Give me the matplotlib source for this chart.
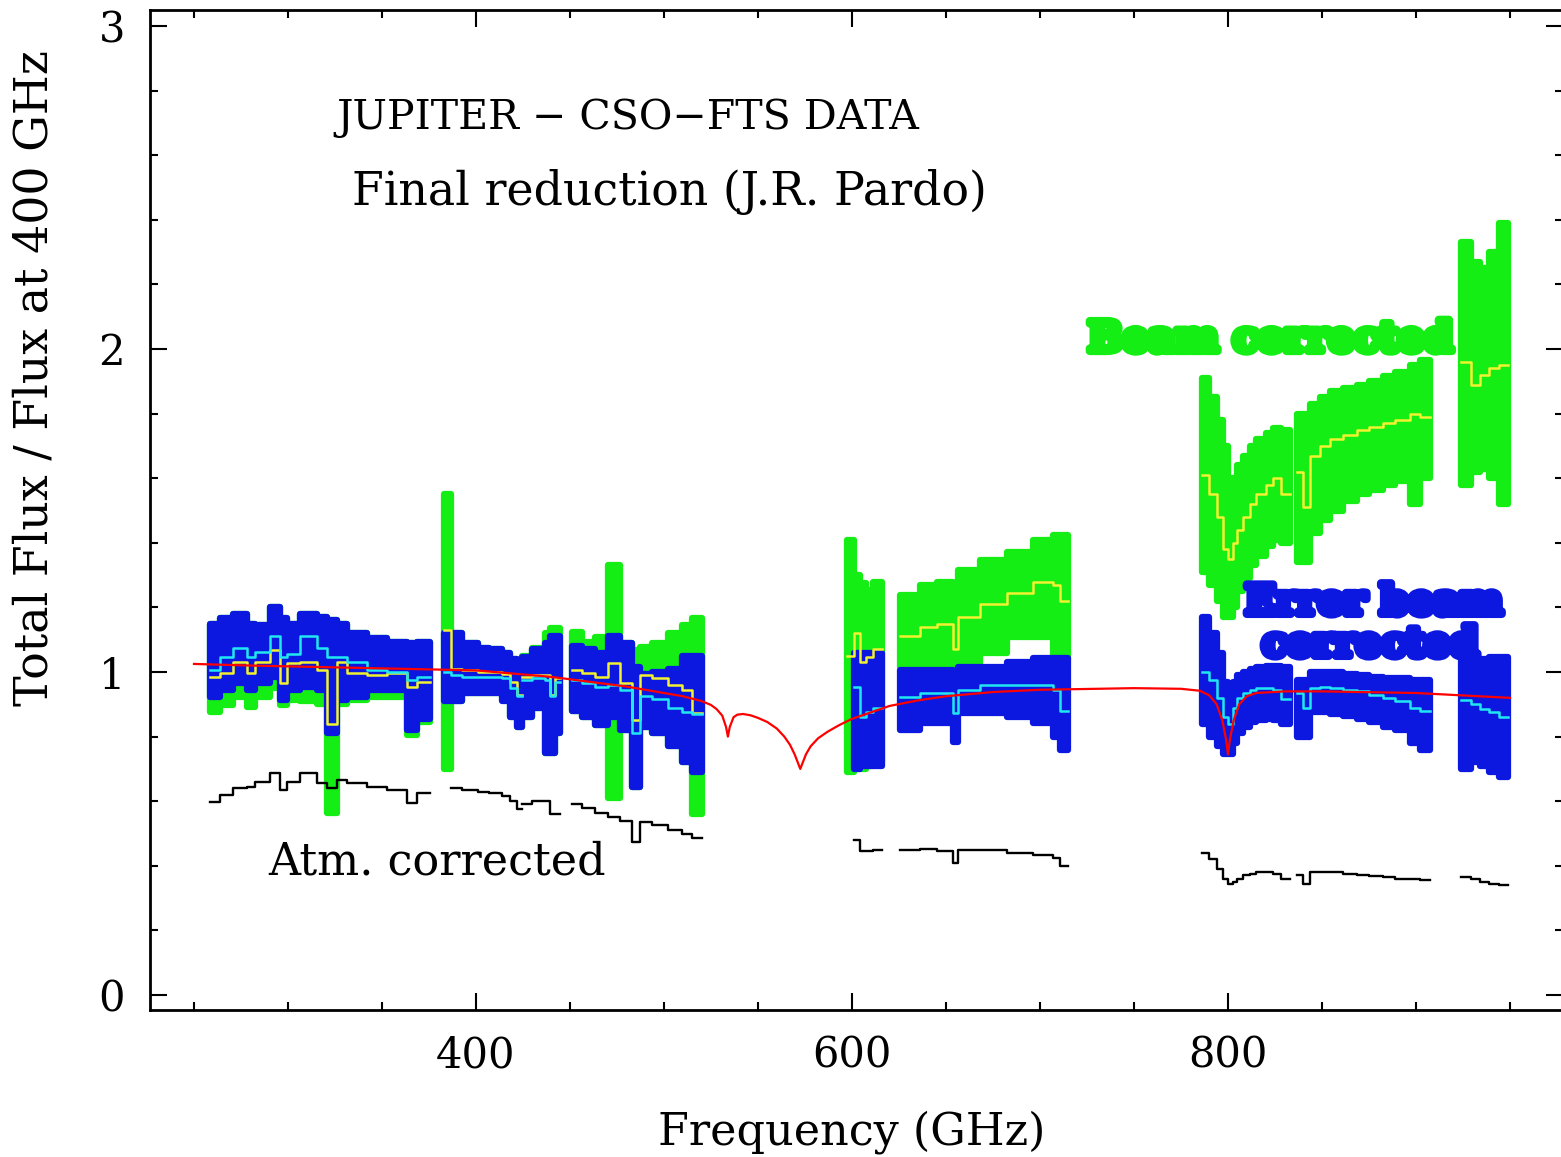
import numpy as np
import matplotlib.pyplot as plt
import matplotlib.patheffects as pe

nan = np.nan

# bin edges (GHz) of each FTS chunk
edges = [
    [258.5, 263.8, 270.9, 278.0, 282.4, 290.4, 295.7, 299.3, 306.4, 315.3, 320.6, 325.9, 331.2, 341.9, 352.5, 363.1, 368.5, 375.5],
    [383.2, 386.5, 392.4, 401.2, 407.0, 413.7, 418.0, 421.6, 424.6],
    [424.6, 429.6, 436.7, 439.5, 442.0, 444.7],
    [450.9, 456.2, 463.3, 470.4, 476.6, 482.8, 487.2, 493.4, 502.3, 509.4, 514.7, 520.1],
    [597.2, 601.0, 604.0, 607.5, 611.3, 616.0],
    [625.5, 636.2, 645.1, 653.9, 656.5, 668.1, 682.3, 696.4, 707.1, 710.6, 715.1],
    [786.0, 790.0, 794.0, 797.5, 800.0, 802.5, 805.0, 808.0, 811.5, 815.0, 820.0, 824.0, 828.0, 833.0],
    [836.5, 840.1, 843.6, 849.0, 854.3, 861.0, 868.5, 875.0, 882.6, 889.0, 896.8, 902.1, 907.4],
    [924.0, 929.0, 934.0, 939.0, 944.0, 949.0],
]

# beam corrected: central value and error band (green / yellow)
beam = [
    [0.986, 0.996, 1.032, 0.996, 1.032, 1.068, 0.965, 1.027, 1.03, 1.006, 0.84, 1.03, 0.996, 0.99, 0.996, 0.955, 0.97],
    [1.13, 1.01, 1.005, 1.0, 1.0, 0.995, 0.97, 0.93],
    [0.985, 0.99, 0.99, 0.93, 0.98],
    [1.006, 0.996, 0.985, 1.027, 0.965, 0.852, 0.99, 0.98, 0.96, 0.944, 0.872],
    [1.05, 1.12, 1.03, 1.045, 1.07],
    [1.11, 1.14, 1.15, 1.07, 1.17, 1.21, 1.245, 1.28, 1.27, 1.22],
    [1.61, 1.55, 1.48, 1.38, 1.35, 1.40, 1.44, 1.48, 1.52, 1.55, 1.58, 1.60, 1.55],
    [1.62, 1.51, 1.67, 1.70, 1.72, 1.735, 1.75, 1.76, 1.77, 1.78, 1.80, 1.79],
    [1.96, 1.89, 1.92, 1.94, 1.95],
]
beam_hi = [
    [1.15, 1.166, 1.18, 1.15, 1.146, 1.20, 1.166, 1.15, 1.18, 1.17, 1.16, 1.15, 1.12, 1.104, 1.094, 1.089, 1.094],
    [1.55, 1.12, 1.09, 1.075, 1.07, 1.06, 1.04, 1.015],
    [1.05, 1.075, 1.12, 1.135, 1.135],
    [1.125, 1.094, 1.109, 1.331, 1.089, 1.068, 1.078, 1.089, 1.12, 1.145, 1.166],
    [1.41, 1.30, 1.275, 1.255, 1.28],
    [1.238, 1.27, 1.28, 1.25, 1.316, 1.347, 1.372, 1.409, 1.424, 1.424],
    [1.91, 1.85, 1.78, 1.70, 1.60, 1.60, 1.64, 1.67, 1.70, 1.72, 1.74, 1.755, 1.75],
    [1.80, 1.80, 1.83, 1.85, 1.87, 1.88, 1.89, 1.90, 1.915, 1.93, 1.95, 1.965],
    [2.33, 2.27, 2.25, 2.30, 2.39],
]
beam_lo = [
    [0.877, 0.898, 0.924, 0.893, 0.924, 0.95, 0.898, 0.913, 0.91, 0.90, 0.562, 0.90, 0.913, 0.924, 0.924, 0.805, 0.846],
    [0.70, 0.91, 0.935, 0.935, 0.935, 0.92, 0.86, 0.83],
    [0.86, 0.89, 0.75, 0.75, 0.81],
    [0.88, 0.86, 0.835, 0.61, 0.82, 0.645, 0.83, 0.81, 0.77, 0.72, 0.56],
    [0.69, 0.70, 0.70, 0.71, 0.72],
    [1.016, 1.016, 1.016, 0.985, 1.016, 1.058, 1.109, 1.109, 1.04, 1.04],
    [1.31, 1.27, 1.22, 1.17, 1.17, 1.20, 1.25, 1.29, 1.33, 1.36, 1.39, 1.41, 1.40],
    [1.34, 1.34, 1.43, 1.47, 1.50, 1.53, 1.55, 1.565, 1.58, 1.59, 1.52, 1.60],
    [1.58, 1.62, 1.63, 1.60, 1.52],
]

# error beam corrected (blue / cyan)
errbeam = [
    [1.006, 1.047, 1.073, 1.047, 1.063, 1.11, 1.047, 1.057, 1.11, 1.073, 1.047, 1.047, 1.032, 1.006, 1.0, 0.975, 0.985],
    [1.0, 0.99, 0.985, 0.985, 0.985, 0.98, 0.95, 0.925],
    [0.975, 0.98, 0.975, 0.925, 0.97],
    [0.975, 0.965, 0.955, 0.96, 0.945, 0.81, 0.925, 0.915, 0.89, 0.875, 0.87],
    [nan, 0.955, 0.86, 0.875, 0.89],
    [0.923, 0.934, 0.934, 0.872, 0.944, 0.96, 0.96, 0.96, 0.944, 0.88],
    [1.0, 0.975, 0.92, 0.86, 0.84, 0.89, 0.92, 0.935, 0.945, 0.95, 0.95, 0.945, 0.915],
    [0.935, 0.89, 0.95, 0.955, 0.95, 0.945, 0.94, 0.93, 0.92, 0.91, 0.89, 0.88],
    [0.913, 0.90, 0.885, 0.875, 0.86],
]
errbeam_hi = [
    [1.15, 1.166, 1.18, 1.15, 1.146, 1.20, 1.166, 1.15, 1.18, 1.17, 1.16, 1.15, 1.12, 1.104, 1.094, 1.089, 1.094],
    [1.12, 1.12, 1.09, 1.075, 1.07, 1.06, 1.04, 1.015],
    [1.047, 1.07, 1.09, 1.11, 1.11],
    [1.08, 1.07, 1.06, 1.11, 1.09, 1.015, 0.995, 1.0, 1.01, 1.05, 1.05],
    [nan, 1.06, 1.06, 1.06, 1.06],
    [1.006, 1.006, 1.006, 0.985, 1.016, 1.016, 1.03, 1.043, 1.043, 1.043],
    [1.17, 1.12, 1.06, 0.97, 0.95, 0.97, 0.99, 1.0, 1.01, 1.015, 1.02, 1.02, 1.015],
    [0.975, 0.975, 1.0, 1.0, 1.0, 0.995, 0.99, 0.985, 0.98, 0.98, 0.975, 0.975],
    [1.035, 1.035, 1.04, 1.047, 1.047],
]
errbeam_lo = [
    [0.924, 0.944, 0.965, 0.944, 0.965, 0.986, 0.913, 0.944, 0.955, 0.944, 0.81, 0.913, 0.924, 0.944, 0.944, 0.82, 0.856],
    [0.91, 0.91, 0.935, 0.935, 0.935, 0.91, 0.86, 0.83],
    [0.86, 0.89, 0.75, 0.75, 0.81],
    [0.88, 0.86, 0.835, 0.86, 0.82, 0.645, 0.83, 0.81, 0.77, 0.72, 0.69],
    [nan, 0.70, 0.71, 0.71, 0.71],
    [0.82, 0.841, 0.841, 0.784, 0.872, 0.872, 0.862, 0.841, 0.80, 0.758],
    [0.84, 0.80, 0.77, 0.745, 0.745, 0.78, 0.81, 0.83, 0.845, 0.85, 0.855, 0.85, 0.84],
    [0.80, 0.80, 0.875, 0.875, 0.87, 0.865, 0.855, 0.845, 0.83, 0.82, 0.78, 0.76],
    [0.70, 0.72, 0.71, 0.69, 0.675],
]

# atmosphere corrected only (black)
atm = [
    [0.599, 0.619, 0.64, 0.645, 0.66, 0.686, 0.634, 0.66, 0.686, 0.655, 0.64, 0.665, 0.655, 0.645, 0.634, 0.593, 0.624],
    [nan, 0.64, 0.635, 0.63, 0.625, 0.615, 0.60, 0.575],
    [0.59, 0.60, 0.60, 0.56, 0.56],
    [0.59, 0.58, 0.565, 0.55, 0.54, 0.475, 0.535, 0.525, 0.51, 0.50, 0.485],
    [nan, 0.48, 0.445, 0.445, 0.45],
    [0.449, 0.452, 0.445, 0.41, 0.449, 0.449, 0.44, 0.433, 0.425, 0.40],
    [0.44, 0.42, 0.39, 0.36, 0.345, 0.35, 0.36, 0.37, 0.375, 0.38, 0.38, 0.375, 0.36],
    [0.37, 0.345, 0.38, 0.382, 0.38, 0.375, 0.372, 0.368, 0.365, 0.36, 0.358, 0.355],
    [0.365, 0.36, 0.35, 0.345, 0.34],
]

# model (red)
model_freq = [250, 280, 320, 360, 400, 440, 480, 510, 520, 525, 528, 531, 533, 534, 535, 537,
              539, 542, 546, 550, 555, 560, 564, 567, 569.5, 571.5, 572.5, 573.5, 575.5, 578,
              582, 587, 593, 600, 610, 620, 635, 650, 675, 700, 750, 775, 785, 790, 794, 797,
              799, 800, 801, 803, 806, 810, 815, 830, 850, 900, 950]
model_flux = [1.025, 1.02, 1.015, 1.01, 1.005, 0.985, 0.955, 0.925, 0.91, 0.898, 0.885, 0.865,
              0.83, 0.80, 0.83, 0.86, 0.868, 0.87, 0.866, 0.858, 0.845, 0.825, 0.80, 0.775,
              0.745, 0.715, 0.70, 0.715, 0.745, 0.77, 0.795, 0.815, 0.835, 0.855, 0.875, 0.895,
              0.912, 0.925, 0.938, 0.945, 0.95, 0.948, 0.942, 0.928, 0.9, 0.85, 0.79, 0.745,
              0.79, 0.85, 0.9, 0.925, 0.935, 0.94, 0.94, 0.935, 0.92]

GREEN = '#14ee14'
BLUE = '#0c18e0'
YELLOW = '#f2f230'
CYAN = '#20e8f0'
SERIF = 'DejaVu Serif'


def ext(a):
    a = np.asarray(a, dtype=float)
    return np.append(a, a[-1])


fig = plt.figure(figsize=(15.61, 11.57), dpi=100)
ax = fig.add_axes([150 / 1561, 1 - 1010 / 1157, (1563 - 150) / 1561, 1000 / 1157])

for i in range(len(edges)):
    e = np.array(edges[i])
    ax.fill_between(e, ext(beam_lo[i]), ext(beam_hi[i]), step='post', facecolor=GREEN,
                    edgecolor=GREEN, linewidth=4.5, joinstyle='round', zorder=1)
for i in range(len(edges)):
    e = np.array(edges[i])
    ax.fill_between(e, ext(errbeam_lo[i]), ext(errbeam_hi[i]), step='post', facecolor=BLUE,
                    edgecolor=BLUE, linewidth=4.5, joinstyle='round', zorder=2)
for i in range(len(edges)):
    e = np.array(edges[i])
    ax.plot(e, ext(beam[i]), drawstyle='steps-post', color=YELLOW, lw=1.8, zorder=3)
    ax.plot(e, ext(errbeam[i]), drawstyle='steps-post', color=CYAN, lw=1.8, zorder=3)
    ax.plot(e, ext(atm[i]), drawstyle='steps-post', color='black', lw=1.7, zorder=3)

ax.plot(model_freq, model_flux, color='red', lw=1.6, zorder=4)

ax.set_xlim(226.6, 978.2)
ax.set_ylim(-0.0464, 3.0495)
ax.set_xticks([400, 600, 800])
ax.set_xticks(np.arange(250, 976, 50), minor=True)
ax.set_yticks([0, 1, 2, 3])
ax.set_yticks(np.arange(0, 3.05, 0.2), minor=True)
ax.tick_params(which='both', direction='in', top=True, right=True, width=1.5)
ax.tick_params(which='major', length=12)
ax.tick_params(which='minor', length=6)
ax.tick_params(axis='x', which='major', pad=18, labelsize=30)
ax.tick_params(axis='y', which='major', pad=18, labelsize=30)
for lab in ax.get_xticklabels() + ax.get_yticklabels():
    lab.set_family(SERIF)
for sp in ax.spines.values():
    sp.set_linewidth(2)

fig.text(852 / 1561, 1 - 1132 / 1157, 'Frequency (GHz)', family=SERIF, fontsize=32,
         ha='center', va='center')
fig.text(35 / 1561, 1 - 378 / 1157, 'Total Flux / Flux at 400 GHz', family=SERIF,
         fontsize=33, rotation=90, ha='center', va='center')

ax.text(325.5, 2.715, 'JUPITER \u2212 CSO\u2212FTS DATA', family=SERIF, fontsize=29.5,
        ha='left', va='center')
ax.text(334.0, 2.486, 'Final reduction (J.R. Pardo)', family=SERIF, fontsize=33,
        ha='left', va='center')
ax.text(289.4, 0.412, 'Atm. corrected', family=SERIF, fontsize=32, ha='left', va='center',
        zorder=5)

bold_fx = lambda c: [pe.Stroke(linewidth=6, foreground=c), pe.Normal()]
ax.text(725.5, 2.028, 'Beam corrected', family=SERIF, fontsize=29.5, fontweight='bold',
        color=GREEN, ha='left', va='center', zorder=5, path_effects=bold_fx(GREEN))
ax.text(809.0, 1.214, 'Error beam', family=SERIF, fontsize=29, fontweight='bold',
        color=BLUE, ha='left', va='center', zorder=5, path_effects=bold_fx(BLUE))
ax.text(818.1, 1.084, 'corrected', family=SERIF, fontsize=29, fontweight='bold',
        color=BLUE, ha='left', va='center', zorder=5, path_effects=bold_fx(BLUE))

fig.savefig('out.png', dpi=100)
